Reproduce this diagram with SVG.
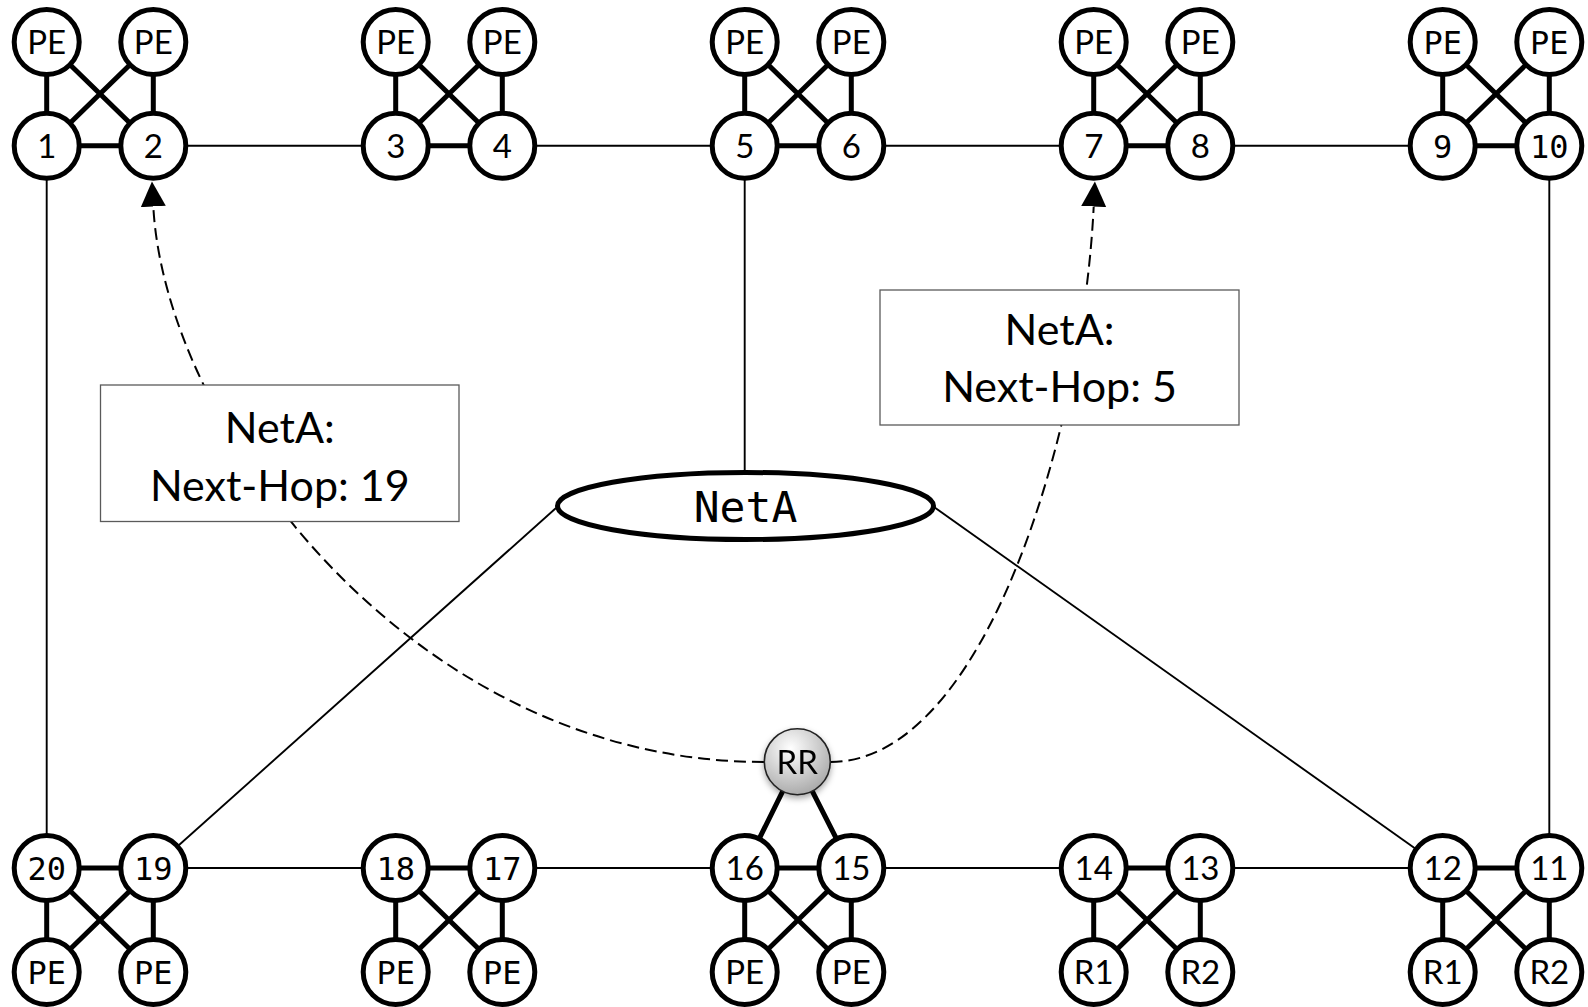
<svg xmlns="http://www.w3.org/2000/svg" width="1588" height="1007" viewBox="0 0 1588 1007">
  <style>
    .thin { stroke: #000; stroke-width: 1.9; fill: none; }
    .thick { stroke: #000; stroke-width: 5; fill: none; }
    .dash { stroke: #000; stroke-width: 2; fill: none; stroke-dasharray: 12 6; }
    .node { fill: #fff; stroke: #000; stroke-width: 5; }
    .sans { font-family: Lato, "Liberation Sans", sans-serif; font-size: 33px; text-anchor: middle; fill: #000; }
    .mono { font-family: "DejaVu Sans Mono", "Liberation Mono", monospace; font-size: 32px; text-anchor: middle; fill: #000; }
    .note { fill: #fff; stroke: #5a5a5a; stroke-width: 1.3; }
    .noteText { font-family: Lato, "Liberation Sans", sans-serif; font-size: 43px; text-anchor: middle; fill: #000; }
  </style>
  <defs>
    <marker id="arrow" markerUnits="userSpaceOnUse" markerWidth="26" markerHeight="26" viewBox="0 0 26 26" refX="0" refY="12.5" orient="auto">
      <path d="M0,0 L25,12.5 L0,25 z" fill="#000"/>
    </marker>
    <radialGradient id="rrFill" cx="0.4" cy="0.3" r="0.75">
      <stop offset="0" stop-color="#ffffff"/>
      <stop offset="1" stop-color="#a6a6a6"/>
    </radialGradient>
    <filter id="shadow" x="-40%" y="-40%" width="180%" height="180%">
      <feDropShadow dx="0" dy="3" stdDeviation="3" flood-color="#000" flood-opacity="0.35"/>
    </filter>
  </defs>

  <rect width="1588" height="1007" fill="#fff"/>

  <g id="connectors">
    <!-- backbone links, top row -->
    <line class="thin" x1="153.3" y1="145.7" x2="395.7" y2="145.7"/>
    <line class="thin" x1="502.3" y1="145.7" x2="744.7" y2="145.7"/>
    <line class="thin" x1="851.3" y1="145.7" x2="1093.7" y2="145.7"/>
    <line class="thin" x1="1200.3" y1="145.7" x2="1442.7" y2="145.7"/>
    <!-- backbone links, bottom row -->
    <line class="thin" x1="153.3" y1="868" x2="395.7" y2="868"/>
    <line class="thin" x1="502.3" y1="868" x2="744.7" y2="868"/>
    <line class="thin" x1="851.3" y1="868" x2="1093.7" y2="868"/>
    <line class="thin" x1="1200.3" y1="868" x2="1442.7" y2="868"/>
    <!-- side links -->
    <line class="thin" x1="46.7" y1="145.7" x2="46.7" y2="868"/>
    <line class="thin" x1="1549.3" y1="145.7" x2="1549.3" y2="868"/>
    <!-- NetA attachments -->
    <line class="thin" x1="744.7" y1="145.7" x2="744.7" y2="473"/>
    <line class="thin" x1="556" y1="508" x2="153.3" y2="868"/>
    <line class="thin" x1="934" y1="507" x2="1442.7" y2="868"/>

    <!-- group 1/2 -->
    <path class="thick" d="M46.7,42 V145.7 M153.3,42 V145.7 M46.7,42 L153.3,145.7 M153.3,42 L46.7,145.7 M46.7,145.7 H153.3"/>
    <!-- group 3/4 -->
    <path class="thick" d="M395.7,42 V145.7 M502.3,42 V145.7 M395.7,42 L502.3,145.7 M502.3,42 L395.7,145.7 M395.7,145.7 H502.3"/>
    <!-- group 5/6 -->
    <path class="thick" d="M744.7,42 V145.7 M851.3,42 V145.7 M744.7,42 L851.3,145.7 M851.3,42 L744.7,145.7 M744.7,145.7 H851.3"/>
    <!-- group 7/8 -->
    <path class="thick" d="M1093.7,42 V145.7 M1200.3,42 V145.7 M1093.7,42 L1200.3,145.7 M1200.3,42 L1093.7,145.7 M1093.7,145.7 H1200.3"/>
    <!-- group 9/10 -->
    <path class="thick" d="M1442.7,42 V145.7 M1549.3,42 V145.7 M1442.7,42 L1549.3,145.7 M1549.3,42 L1442.7,145.7 M1442.7,145.7 H1549.3"/>

    <!-- group 20/19 -->
    <path class="thick" d="M46.7,972 V868 M153.3,972 V868 M46.7,972 L153.3,868 M153.3,972 L46.7,868 M46.7,868 H153.3"/>
    <!-- group 18/17 -->
    <path class="thick" d="M395.7,972 V868 M502.3,972 V868 M395.7,972 L502.3,868 M502.3,972 L395.7,868 M395.7,868 H502.3"/>
    <!-- group 16/15 -->
    <path class="thick" d="M744.7,972 V868 M851.3,972 V868 M744.7,972 L851.3,868 M851.3,972 L744.7,868 M744.7,868 H851.3"/>
    <!-- group 14/13 -->
    <path class="thick" d="M1093.7,972 V868 M1200.3,972 V868 M1093.7,972 L1200.3,868 M1200.3,972 L1093.7,868 M1093.7,868 H1200.3"/>
    <!-- group 12/11 -->
    <path class="thick" d="M1442.7,972 V868 M1549.3,972 V868 M1442.7,972 L1549.3,868 M1549.3,972 L1442.7,868 M1442.7,868 H1549.3"/>

    <!-- route reflector uplinks -->
    <path class="thick" d="M797.3,761.7 L744.7,868 M797.3,761.7 L851.3,868"/>

    <!-- route advertisements from RR -->
    <path class="dash" d="M764,762 C410,762 165,425 153.3,206.5" marker-end="url(#arrow)"/>
    <path class="dash" d="M830.5,762 C985,762 1083,430 1093.7,206.5" marker-end="url(#arrow)"/>
  </g>

  <g id="note-19">
    <rect class="note" x="100.5" y="385" width="358.5" height="136.5"/>
    <text class="noteText" x="279.8" y="442.5">NetA:</text>
    <text class="noteText" x="279.8" y="500.5">Next-Hop: 19</text>
  </g>
  <g id="note-5">
    <rect class="note" x="880" y="290" width="359" height="135"/>
    <text class="noteText" x="1059.5" y="344.5">NetA:</text>
    <text class="noteText" x="1059.5" y="401.5">Next-Hop: 5</text>
  </g>

  <g id="netA">
    <ellipse cx="745.5" cy="506" rx="188" ry="33.5" fill="#fff" stroke="#000" stroke-width="5"/>
    <text class="mono" x="745.5" y="522" style="font-size:43px">NetA</text>
  </g>

  <g id="rr" filter="url(#shadow)">
    <circle cx="797.3" cy="761.7" r="33" fill="url(#rrFill)" stroke="#222" stroke-width="1.6"/>
    <text class="sans" x="797.3" y="773.5">RR</text>
  </g>

  <!-- top row routers -->
  <g id="pe-1"><circle class="node" cx="46.7" cy="42" r="32.5"/><text class="sans" x="46.7" y="54">PE</text></g>
  <g id="pe-2"><circle class="node" cx="153.3" cy="42" r="32.5"/><text class="sans" x="153.3" y="54">PE</text></g>
  <g id="n1"><circle class="node" cx="46.7" cy="145.7" r="32.5"/><text class="sans" x="46.7" y="157.7">1</text></g>
  <g id="n2"><circle class="node" cx="153.3" cy="145.7" r="32.5"/><text class="sans" x="153.3" y="157.7">2</text></g>

  <g id="pe-3"><circle class="node" cx="395.7" cy="42" r="32.5"/><text class="sans" x="395.7" y="54">PE</text></g>
  <g id="pe-4"><circle class="node" cx="502.3" cy="42" r="32.5"/><text class="sans" x="502.3" y="54">PE</text></g>
  <g id="n3"><circle class="node" cx="395.7" cy="145.7" r="32.5"/><text class="sans" x="395.7" y="157.7">3</text></g>
  <g id="n4"><circle class="node" cx="502.3" cy="145.7" r="32.5"/><text class="sans" x="502.3" y="157.7">4</text></g>

  <g id="pe-5"><circle class="node" cx="744.7" cy="42" r="32.5"/><text class="sans" x="744.7" y="54">PE</text></g>
  <g id="pe-6"><circle class="node" cx="851.3" cy="42" r="32.5"/><text class="sans" x="851.3" y="54">PE</text></g>
  <g id="n5"><circle class="node" cx="744.7" cy="145.7" r="32.5"/><text class="sans" x="744.7" y="157.7">5</text></g>
  <g id="n6"><circle class="node" cx="851.3" cy="145.7" r="32.5"/><text class="sans" x="851.3" y="157.7">6</text></g>

  <g id="pe-7"><circle class="node" cx="1093.7" cy="42" r="32.5"/><text class="sans" x="1093.7" y="54">PE</text></g>
  <g id="pe-8"><circle class="node" cx="1200.3" cy="42" r="32.5"/><text class="sans" x="1200.3" y="54">PE</text></g>
  <g id="n7"><circle class="node" cx="1093.7" cy="145.7" r="32.5"/><text class="sans" x="1093.7" y="157.7">7</text></g>
  <g id="n8"><circle class="node" cx="1200.3" cy="145.7" r="32.5"/><text class="sans" x="1200.3" y="157.7">8</text></g>

  <g id="pe-9"><circle class="node" cx="1442.7" cy="42" r="32.5"/><text class="mono" x="1442.7" y="53.5">PE</text></g>
  <g id="pe-10"><circle class="node" cx="1549.3" cy="42" r="32.5"/><text class="mono" x="1549.3" y="53.5">PE</text></g>
  <g id="n9"><circle class="node" cx="1442.7" cy="145.7" r="32.5"/><text class="mono" x="1442.7" y="157.5">9</text></g>
  <g id="n10"><circle class="node" cx="1549.3" cy="145.7" r="32.5"/><text class="mono" x="1549.3" y="157.5">10</text></g>

  <!-- bottom row routers -->
  <g id="n20"><circle class="node" cx="46.7" cy="868" r="32.5"/><text class="mono" x="46.7" y="879.8">20</text></g>
  <g id="n19"><circle class="node" cx="153.3" cy="868" r="32.5"/><text class="mono" x="153.3" y="879.8">19</text></g>
  <g id="pe-20"><circle class="node" cx="46.7" cy="972" r="32.5"/><text class="mono" x="46.7" y="983.8">PE</text></g>
  <g id="pe-19"><circle class="node" cx="153.3" cy="972" r="32.5"/><text class="mono" x="153.3" y="983.8">PE</text></g>

  <g id="n18"><circle class="node" cx="395.7" cy="868" r="32.5"/><text class="mono" x="395.7" y="879.8">18</text></g>
  <g id="n17"><circle class="node" cx="502.3" cy="868" r="32.5"/><text class="mono" x="502.3" y="879.8">17</text></g>
  <g id="pe-18"><circle class="node" cx="395.7" cy="972" r="32.5"/><text class="mono" x="395.7" y="983.8">PE</text></g>
  <g id="pe-17"><circle class="node" cx="502.3" cy="972" r="32.5"/><text class="mono" x="502.3" y="983.8">PE</text></g>

  <g id="n16"><circle class="node" cx="744.7" cy="868" r="32.5"/><text class="sans" x="744.7" y="880">16</text></g>
  <g id="n15"><circle class="node" cx="851.3" cy="868" r="32.5"/><text class="sans" x="851.3" y="880">15</text></g>
  <g id="pe-16"><circle class="node" cx="744.7" cy="972" r="32.5"/><text class="sans" x="744.7" y="984">PE</text></g>
  <g id="pe-15"><circle class="node" cx="851.3" cy="972" r="32.5"/><text class="sans" x="851.3" y="984">PE</text></g>

  <g id="n14"><circle class="node" cx="1093.7" cy="868" r="32.5"/><text class="sans" x="1093.7" y="880">14</text></g>
  <g id="n13"><circle class="node" cx="1200.3" cy="868" r="32.5"/><text class="sans" x="1200.3" y="880">13</text></g>
  <g id="r1-14"><circle class="node" cx="1093.7" cy="972" r="32.5"/><text class="sans" x="1093.7" y="984">R1</text></g>
  <g id="r2-13"><circle class="node" cx="1200.3" cy="972" r="32.5"/><text class="sans" x="1200.3" y="984">R2</text></g>

  <g id="n12"><circle class="node" cx="1442.7" cy="868" r="32.5"/><text class="sans" x="1442.7" y="880">12</text></g>
  <g id="n11"><circle class="node" cx="1549.3" cy="868" r="32.5"/><text class="sans" x="1549.3" y="880">11</text></g>
  <g id="r1-12"><circle class="node" cx="1442.7" cy="972" r="32.5"/><text class="sans" x="1442.7" y="984">R1</text></g>
  <g id="r2-11"><circle class="node" cx="1549.3" cy="972" r="32.5"/><text class="sans" x="1549.3" y="984">R2</text></g>
</svg>
